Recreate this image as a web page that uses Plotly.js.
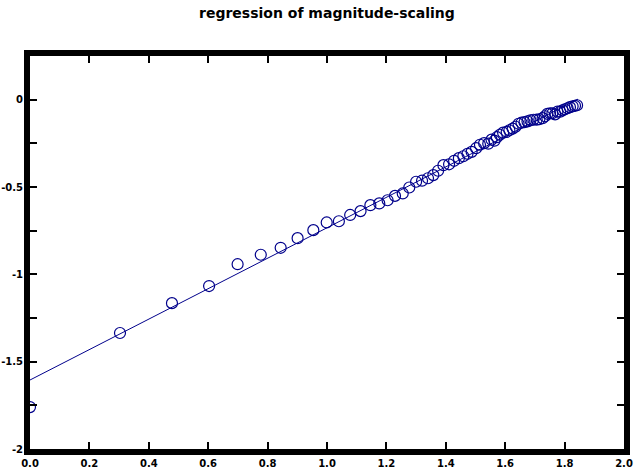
<!DOCTYPE html>
<html>
<head>
<meta charset="utf-8">
<script src="https://cdn.plot.ly/plotly-3.0.1.min.js"></script>
<style>html,body{margin:0;padding:0;background:#fff;}#chart{width:634px;height:476px;}</style>
</head>
<body>
<div id="chart"></div>
<script>
// Observed points
const obsX = [0, 0.303, 0.478, 0.603, 0.699, 0.777, 0.844, 0.901, 0.954, 0.999,
  1.040, 1.078, 1.113, 1.146, 1.176, 1.204, 1.229, 1.255, 1.277, 1.300,
  1.320, 1.340, 1.358, 1.374, 1.392, 1.411, 1.428, 1.444, 1.459, 1.473,
  1.487, 1.502, 1.515, 1.529, 1.543, 1.554, 1.564, 1.572, 1.582, 1.593,
  1.605, 1.614, 1.625, 1.635, 1.645, 1.655, 1.665, 1.675, 1.685, 1.695,
  1.706, 1.715, 1.726, 1.734, 1.742, 1.751, 1.759, 1.768, 1.776, 1.785,
  1.793, 1.801, 1.810, 1.818, 1.827, 1.835, 1.842];
const obsY = [-1.760, -1.336, -1.165, -1.067, -0.942, -0.888, -0.848, -0.793, -0.747, -0.703,
  -0.696, -0.660, -0.638, -0.604, -0.594, -0.576, -0.551, -0.537, -0.503, -0.470,
  -0.464, -0.450, -0.432, -0.407, -0.375, -0.370, -0.350, -0.335, -0.324, -0.310,
  -0.299, -0.278, -0.258, -0.249, -0.252, -0.229, -0.235, -0.215, -0.201, -0.189,
  -0.184, -0.175, -0.166, -0.155, -0.138, -0.132, -0.129, -0.124, -0.118, -0.115,
  -0.114, -0.112, -0.106, -0.095, -0.081, -0.078, -0.078, -0.084, -0.069, -0.069,
  -0.061, -0.055, -0.049, -0.043, -0.038, -0.035, -0.032];
// Fitted regression line endpoints
const fitX = [0, 1.845];
const fitY = [-1.605, 0.003];
// Tick labels
const xTickVals = [0, 0.2, 0.4, 0.6, 0.8, 1.0, 1.2, 1.4, 1.6, 1.8, 2.0];
const xTickText = ['0.0', '0.2', '0.4', '0.6', '0.8', '1.0', '1.2', '1.4', '1.6', '1.8', '2.0'];
const yTickVals = [-2, -1.5, -1, -0.5, 0];
const yTickText = ['-2', '-1.5', '-1', '-0.5', '0'];
const titleText = 'regression of magnitude-scaling';

const navy = 'rgb(0,0,139)';
const traces = [
  {x: fitX, y: fitY, mode: 'lines', type: 'scatter', line: {color: navy, width: 1}, hoverinfo: 'skip'},
  {x: obsX, y: obsY, mode: 'markers', type: 'scatter', cliponaxis: true,
   marker: {symbol: 'circle-open', size: 11, color: navy, line: {color: navy, width: 1.2}}}
];
const axisFont = {family: 'DejaVu Sans', size: 10, color: '#000', weight: 'bold'};
const layout = {
  width: 634, height: 476,
  margin: {l: 30, r: 10, t: 56, b: 27, pad: 0},
  paper_bgcolor: '#fff', plot_bgcolor: '#fff',
  showlegend: false,
  title: {text: '<b>' + titleText + '</b>', x: 0.5157, xanchor: 'center', y: 0.972, yanchor: 'middle',
          font: {family: 'DejaVu Sans', size: 14, color: '#000'}},
  xaxis: {range: [0, 2], tickvals: xTickVals, ticktext: xTickText, ticks: 'inside', ticklen: 7, tickwidth: 2,
          tickcolor: '#000', showline: true, linewidth: 6, linecolor: '#000', mirror: 'allticks',
          showgrid: false, zeroline: false, tickfont: axisFont, fixedrange: true, ticklabeloverflow: 'allow'},
  yaxis: {range: [-2, 0.25], tickvals: yTickVals, ticktext: yTickText, ticks: 'inside', ticklen: 7, tickwidth: 2,
          tickcolor: '#000', showline: true, linewidth: 6, linecolor: '#000', mirror: 'allticks',
          showgrid: false, zeroline: false, tickfont: axisFont, fixedrange: true, ticklabelstandoff: -1,
          ticklabeloverflow: 'allow',
          minor: {dtick: 0.25, tick0: 0, ticks: 'inside', ticklen: 7, tickwidth: 2, tickcolor: '#000', showgrid: false}}
};
Plotly.newPlot('chart', traces, layout, {displayModeBar: false, staticPlot: true});
</script>
</body>
</html>
